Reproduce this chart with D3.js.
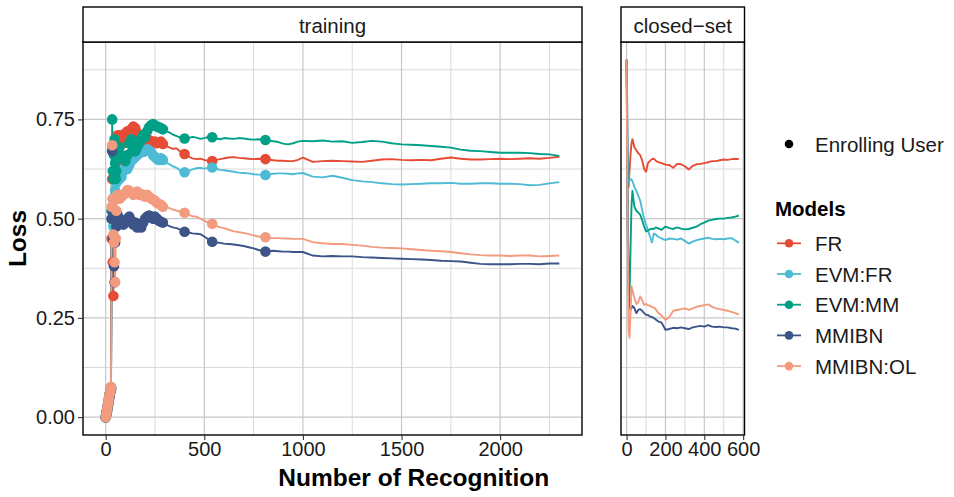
<!DOCTYPE html>
<html>
<head>
<meta charset="utf-8">
<script src="https://cdn.jsdelivr.net/npm/d3@7"></script>
<style>
  body { margin: 0; background: #fff; }
  svg { display: block; font-family: "Liberation Sans", Arial, Helvetica, sans-serif; }
</style>
</head>
<body>
<svg id="chart" width="954" height="497"></svg>
<script>
const W = 954, H = 497;

// models + palette (npg)
const MODELS = ['FR', 'EVM:FR', 'EVM:MM', 'MMIBN', 'MMIBN:OL'];
const COLORS = ['#E64B35', '#4DBBD5', '#00A087', '#3C5488', '#F39B7F'];

// ---- training panel ----
const trainX = [
  0, 3, 6, 9, 12, 15, 18, 21, 24, 27, 30, 33, 36, 39, 42, 45, 48, 51, 54, 57, 60,
  70, 80, 90, 100, 110, 120, 130, 140, 150, 160, 170, 180, 190, 200, 210, 220, 230, 240, 250, 260, 270, 280, 290, 300,
  320, 340, 360, 380, 400, 420, 440, 460, 480, 500, 520, 540, 560, 580, 600,
  625, 650, 675, 700, 725, 750, 775, 810, 825, 850, 875, 900, 925, 950, 975, 1000,
  1050, 1100, 1150, 1200, 1250, 1300, 1350, 1400, 1450, 1500, 1550, 1600, 1650, 1700, 1750, 1800, 1850, 1900, 1950, 2000, 2050, 2100, 2150, 2200, 2250, 2300
];

// recognitions where a new user was enrolled (drawn as points)
const enrollX = [
  0, 3, 6, 9, 12, 15, 18, 21, 24, 27, 30, 33, 36, 39, 42, 45, 48, 51, 54, 57, 60,
  70, 80, 90, 100, 110, 120, 130, 140, 150, 160, 170, 180, 190, 200, 210, 220, 230, 240, 250, 260, 270, 280, 290,
  400, 540, 810
];

const trainFR = [
  0, 0.004, 0.012, 0.02, 0.03, 0.04, 0.048, 0.056, 0.064, 0.07, 0.45, 0.60, 0.39, 0.305, 0.45, 0.55, 0.62, 0.66, 0.64, 0.69, 0.71,
  0.71, 0.70, 0.69, 0.715, 0.72, 0.71, 0.725, 0.732, 0.728, 0.715, 0.705, 0.71, 0.70, 0.695, 0.70, 0.698, 0.695, 0.692, 0.694, 0.69, 0.692, 0.694, 0.688, 0.685,
  0.68, 0.676, 0.677, 0.668, 0.663, 0.656, 0.652, 0.650, 0.651, 0.648, 0.645, 0.645, 0.648, 0.65, 0.652,
  0.654, 0.655, 0.653, 0.652, 0.651, 0.650, 0.651, 0.650, 0.649, 0.647, 0.646, 0.646, 0.645, 0.645, 0.648, 0.654,
  0.643, 0.645, 0.646, 0.645, 0.644, 0.643, 0.646, 0.649, 0.650, 0.648, 0.647, 0.648, 0.647, 0.651, 0.654, 0.651, 0.649, 0.649, 0.650, 0.651, 0.650, 0.651, 0.652, 0.651, 0.653, 0.656
];
const trainEVMFR = [
  0, 0.006, 0.014, 0.022, 0.031, 0.04, 0.049, 0.057, 0.065, 0.072, 0.50, 0.68, 0.55, 0.48, 0.45, 0.52, 0.57, 0.60, 0.59, 0.61, 0.62,
  0.60, 0.605, 0.62, 0.63, 0.625, 0.635, 0.645, 0.65, 0.655, 0.66, 0.665, 0.67, 0.668, 0.672, 0.675, 0.672, 0.668, 0.66, 0.655, 0.65, 0.648, 0.652, 0.648, 0.642,
  0.638, 0.632, 0.628, 0.62, 0.617, 0.62, 0.624, 0.627, 0.628, 0.626, 0.628, 0.629, 0.626, 0.623, 0.622,
  0.62, 0.618, 0.616, 0.615, 0.614, 0.612, 0.611, 0.610, 0.611, 0.613, 0.614, 0.614, 0.613, 0.612, 0.614, 0.615,
  0.606, 0.604, 0.608, 0.603, 0.597, 0.594, 0.592, 0.589, 0.587, 0.586, 0.587, 0.588, 0.589, 0.589, 0.590, 0.588, 0.588, 0.589, 0.589, 0.588, 0.588, 0.587, 0.584, 0.585, 0.589, 0.592
];
const trainEVMMM = [
  0, 0.007, 0.015, 0.024, 0.033, 0.042, 0.05, 0.058, 0.066, 0.073, 0.52, 0.75, 0.62, 0.60, 0.66, 0.70, 0.64, 0.60, 0.62, 0.66, 0.67,
  0.68, 0.66, 0.65, 0.645, 0.66, 0.69, 0.70, 0.68, 0.67, 0.68, 0.69, 0.70, 0.71, 0.705, 0.72, 0.73, 0.735, 0.738, 0.735, 0.732, 0.73, 0.728, 0.725, 0.72,
  0.718, 0.712, 0.708, 0.704, 0.702, 0.703, 0.706, 0.704, 0.701, 0.703, 0.706, 0.705, 0.702, 0.700, 0.703,
  0.702, 0.701, 0.703, 0.702, 0.700, 0.699, 0.700, 0.698, 0.697, 0.695, 0.693, 0.689, 0.687, 0.690, 0.694, 0.696,
  0.695, 0.697, 0.694, 0.695, 0.691, 0.693, 0.696, 0.694, 0.690, 0.687, 0.686, 0.685, 0.683, 0.681, 0.679, 0.674, 0.671, 0.670, 0.668, 0.666, 0.666, 0.666, 0.665, 0.663, 0.662, 0.658
];
const trainMMIBN = [
  0, 0.008, 0.016, 0.025, 0.034, 0.043, 0.052, 0.06, 0.068, 0.075, 0.50, 0.67, 0.52, 0.45, 0.38, 0.34, 0.44, 0.50, 0.48, 0.50, 0.51,
  0.50, 0.49, 0.485, 0.49, 0.50, 0.505, 0.495, 0.485, 0.49, 0.478, 0.485, 0.478, 0.49, 0.50, 0.505, 0.508, 0.505, 0.50, 0.505, 0.50, 0.495, 0.492, 0.49, 0.486,
  0.482, 0.478, 0.476, 0.472, 0.467, 0.465, 0.463, 0.462, 0.461, 0.455, 0.448, 0.442, 0.440, 0.439, 0.437,
  0.436, 0.435, 0.433, 0.431, 0.428, 0.425, 0.421, 0.417, 0.418, 0.419, 0.418, 0.417, 0.417, 0.416, 0.416, 0.416,
  0.407, 0.405, 0.406, 0.405, 0.405, 0.403, 0.402, 0.401, 0.400, 0.399, 0.398, 0.397, 0.396, 0.394, 0.393, 0.392, 0.389, 0.386, 0.385, 0.385, 0.385, 0.386, 0.386, 0.385, 0.387, 0.387
];
const trainMMIBNOL = [
  0, 0.008, 0.017, 0.026, 0.035, 0.044, 0.053, 0.061, 0.069, 0.076, 0.53, 0.685, 0.55, 0.46, 0.44, 0.39, 0.34, 0.45, 0.52, 0.55, 0.56,
  0.55, 0.555, 0.56, 0.565, 0.572, 0.57, 0.565, 0.56, 0.565, 0.568, 0.56, 0.562, 0.558, 0.555, 0.56, 0.555, 0.551, 0.548, 0.545, 0.54, 0.537, 0.535, 0.53, 0.53,
  0.527, 0.523, 0.52, 0.518, 0.515, 0.51, 0.506, 0.505, 0.50, 0.495, 0.49, 0.487, 0.482, 0.478, 0.476,
  0.472, 0.468, 0.466, 0.464, 0.461, 0.458, 0.455, 0.453, 0.452, 0.451, 0.451, 0.45, 0.45, 0.449, 0.449, 0.449,
  0.441, 0.438, 0.436, 0.436, 0.434, 0.432, 0.429, 0.427, 0.426, 0.425, 0.423, 0.421, 0.419, 0.418, 0.416, 0.413, 0.410, 0.408, 0.407, 0.407, 0.406, 0.407, 0.407, 0.405, 0.406, 0.407
];

// ---- closed-set panel ----
const closedX = [
  0, 3, 6, 10, 15, 20, 25, 30,
  40, 50, 60, 70, 80, 90, 100, 110, 120, 130, 140, 150, 160,
  180, 200, 220, 240, 260, 280, 300, 320, 340, 360, 380, 400, 420, 440, 460, 480, 500, 520, 540, 560,
  578
];
const closedFR = [
  0.90, 0.75, 0.62, 0.58, 0.62, 0.66, 0.69, 0.70,
  0.68, 0.672, 0.665, 0.66, 0.647, 0.625, 0.618, 0.64, 0.645, 0.65, 0.651, 0.646, 0.643,
  0.64, 0.636, 0.635, 0.628, 0.638, 0.637, 0.632, 0.624, 0.633, 0.637, 0.638, 0.64, 0.642, 0.645, 0.645, 0.647, 0.649, 0.648, 0.65, 0.651,
  0.65
];
const closedEVMFR = [
  0.90, 0.80, 0.65, 0.59, 0.595, 0.60, 0.598, 0.595,
  0.58, 0.57, 0.558, 0.545, 0.522, 0.50, 0.485, 0.47, 0.455, 0.44, 0.462, 0.46, 0.455,
  0.45, 0.446, 0.45, 0.449, 0.447, 0.45, 0.444, 0.437, 0.442, 0.446, 0.448, 0.45, 0.452, 0.449, 0.448, 0.449, 0.448, 0.45, 0.451, 0.445,
  0.439
];
const closedEVMMM = [
  0.90, 0.70, 0.50, 0.35, 0.31, 0.42, 0.53, 0.57,
  0.53, 0.52, 0.515, 0.51, 0.496, 0.48, 0.468, 0.47, 0.473, 0.475, 0.474, 0.478, 0.476,
  0.472, 0.48, 0.476, 0.474, 0.478, 0.475, 0.473, 0.474, 0.477, 0.48, 0.486, 0.49, 0.495, 0.497, 0.499, 0.5, 0.5, 0.502, 0.503, 0.505,
  0.508
];
const closedMMIBN = [
  0.90, 0.65, 0.45, 0.32, 0.28, 0.27, 0.275, 0.28,
  0.275, 0.262, 0.27, 0.272, 0.268, 0.262, 0.258, 0.257, 0.254, 0.252, 0.25, 0.246, 0.242,
  0.238, 0.22, 0.222, 0.225, 0.224, 0.226, 0.224, 0.222, 0.226, 0.228, 0.23, 0.228, 0.232, 0.228, 0.227, 0.228, 0.226, 0.226, 0.224, 0.223,
  0.22
];
const closedMMIBNOL = [
  0.90, 0.62, 0.45, 0.22, 0.20, 0.26, 0.33, 0.32,
  0.30, 0.285, 0.29, 0.304, 0.295, 0.283, 0.285, 0.282, 0.28, 0.278, 0.276, 0.272, 0.264,
  0.256, 0.245, 0.252, 0.268, 0.27, 0.272, 0.274, 0.27, 0.274, 0.278, 0.28, 0.282, 0.284, 0.278, 0.274, 0.272, 0.27, 0.268, 0.265, 0.262,
  0.258
];

// ticks
const yTicks = [0, 0.25, 0.5, 0.75];
const yMinor = [0.125, 0.375, 0.625, 0.875];
const trainTicks = [0, 500, 1000, 1500, 2000];
const trainMinor = [250, 750, 1250, 1750, 2250];
const closedTicks = [0, 200, 400, 600];
const closedMinor = [100, 300, 500];

const svg = d3.select('#chart');
const FONT = '"Liberation Sans", Arial, Helvetica, sans-serif';
const TOP = 42, BOTTOM = 435;

const panels = [
  { name: 'training', x0: 83, x1: 582, xs: trainX,
    series: [trainFR, trainEVMFR, trainEVMMM, trainMMIBN, trainMMIBNOL],
    ticks: trainTicks, minor: trainMinor, points: true },
  { name: 'closed\u2212set', x0: 621, x1: 744.5, xs: closedX,
    series: [closedFR, closedEVMFR, closedEVMMM, closedMMIBN, closedMMIBNOL],
    ticks: closedTicks, minor: closedMinor, points: false }
];

panels.forEach(p => p.series.forEach((s, i) => {
  if (s.length !== p.xs.length) console.error(p.name, MODELS[i], s.length, p.xs.length);
}));

// shared y scale (ggplot expand 5%)
const allY = panels.flatMap(p => p.series.flat());
const yLo = d3.min(allY), yHi = d3.max(allY), yPad = (yHi - yLo) * 0.05;
const y = d3.scaleLinear().domain([yLo - yPad, yHi + yPad]).range([BOTTOM, TOP]);

panels.forEach((p, pi) => {
  const [lo, hi] = d3.extent(p.xs);
  const pad = (hi - lo) * 0.05;
  const x = d3.scaleLinear().domain([lo - pad, hi + pad]).range([p.x0, p.x1]);
  const g = svg.append('g');

  // grid
  g.selectAll('line.hmin').data(yMinor).join('line')
    .attr('x1', p.x0).attr('x2', p.x1).attr('y1', d => y(d)).attr('y2', d => y(d))
    .attr('stroke', '#dadada').attr('stroke-width', 1);
  g.selectAll('line.vmin').data(p.minor).join('line')
    .attr('y1', TOP).attr('y2', BOTTOM).attr('x1', d => x(d)).attr('x2', d => x(d))
    .attr('stroke', '#dadada').attr('stroke-width', 1);
  g.selectAll('line.hmaj').data(yTicks).join('line')
    .attr('x1', p.x0).attr('x2', p.x1).attr('y1', d => y(d)).attr('y2', d => y(d))
    .attr('stroke', '#c8c8c8').attr('stroke-width', 1.2);
  g.selectAll('line.vmaj').data(p.ticks).join('line')
    .attr('y1', TOP).attr('y2', BOTTOM).attr('x1', d => x(d)).attr('x2', d => x(d))
    .attr('stroke', '#c8c8c8').attr('stroke-width', 1.2);

  // clip
  const clipId = 'clip' + pi;
  svg.append('clipPath').attr('id', clipId).append('rect')
    .attr('x', p.x0).attr('y', TOP).attr('width', p.x1 - p.x0).attr('height', BOTTOM - TOP);
  const plot = g.append('g').attr('clip-path', `url(#${clipId})`);

  const line = d3.line().x(d => x(d[0])).y(d => y(d[1]));
  p.series.forEach((vals, i) => {
    plot.append('path')
      .datum(p.xs.map((d, j) => [d, vals[j]]))
      .attr('d', line)
      .attr('fill', 'none')
      .attr('stroke', COLORS[i])
      .attr('stroke-width', 1.9)
      .attr('stroke-linejoin', 'round');
  });

  if (p.points) {
    p.series.forEach((vals, i) => {
      const pts = p.xs.map((d, j) => [d, vals[j]]).filter(d => enrollX.includes(d[0]));
      plot.selectAll(null).data(pts).join('circle')
        .attr('cx', d => x(d[0])).attr('cy', d => y(d[1]))
        .attr('r', 5.3)
        .attr('fill', COLORS[i]);
    });
  }

  // panel border
  g.append('rect')
    .attr('x', p.x0).attr('y', TOP).attr('width', p.x1 - p.x0).attr('height', BOTTOM - TOP)
    .attr('fill', 'none').attr('stroke', '#000').attr('stroke-width', 1.4);

  // strip
  g.append('rect')
    .attr('x', p.x0).attr('y', 7).attr('width', p.x1 - p.x0).attr('height', TOP - 7)
    .attr('fill', '#fff').attr('stroke', '#000').attr('stroke-width', 1.4);
  g.append('text')
    .attr('x', (p.x0 + p.x1) / 2).attr('y', 25)
    .attr('text-anchor', 'middle').attr('dominant-baseline', 'central')
    .attr('font-size', 20.5).attr('fill', '#1a1a1a')
    .text(p.name);

  // x axis
  const ax = g.append('g').attr('transform', `translate(0,${BOTTOM})`)
    .call(d3.axisBottom(x).tickValues(p.ticks).tickSize(5).tickPadding(2).tickFormat(d3.format('d')));
  ax.select('.domain').remove();
  ax.selectAll('line').attr('stroke', '#333').attr('stroke-width', 1.1);
  ax.selectAll('text').attr('font-size', 20).attr('font-family', FONT).attr('fill', '#1a1a1a');
});

// y axis (left panel only)
const ay = svg.append('g').attr('transform', `translate(${panels[0].x0},0)`)
  .call(d3.axisLeft(y).tickValues(yTicks).tickSize(5).tickPadding(3).tickFormat(d3.format('.2f')));
ay.select('.domain').remove();
ay.selectAll('line').attr('stroke', '#333').attr('stroke-width', 1.1);
ay.selectAll('text').attr('font-size', 20).attr('font-family', FONT).attr('fill', '#1a1a1a');

// axis titles
svg.append('text')
  .attr('x', (panels[0].x0 + panels[1].x1) / 2).attr('y', 486)
  .attr('text-anchor', 'middle')
  .attr('font-size', 24.5).attr('font-weight', 'bold')
  .text('Number of Recognition');
svg.append('text')
  .attr('transform', `translate(26,${(TOP + BOTTOM) / 2}) rotate(-90)`)
  .attr('text-anchor', 'middle')
  .attr('font-size', 24.5).attr('font-weight', 'bold')
  .text('Loss');

// legend
const lg = svg.append('g');
lg.append('circle').attr('cx', 789).attr('cy', 144).attr('r', 4.3).attr('fill', '#000');
lg.append('text').attr('x', 815).attr('y', 144)
  .attr('dominant-baseline', 'central').attr('font-size', 20.5).attr('fill', '#1a1a1a')
  .text('Enrolling User');
lg.append('text').attr('x', 775).attr('y', 208)
  .attr('dominant-baseline', 'central').attr('font-size', 20.5).attr('font-weight', 'bold')
  .text('Models');
MODELS.forEach((m, i) => {
  const yy = 243.3 + i * 30.7;
  lg.append('line').attr('x1', 777).attr('x2', 801).attr('y1', yy).attr('y2', yy)
    .attr('stroke', COLORS[i]).attr('stroke-width', 1.8);
  lg.append('circle').attr('cx', 789).attr('cy', yy).attr('r', 4.3).attr('fill', COLORS[i]);
  lg.append('text').attr('x', 815).attr('y', yy)
    .attr('dominant-baseline', 'central').attr('font-size', 20.5).attr('fill', '#1a1a1a')
    .text(m);
});
</script>
</body>
</html>
